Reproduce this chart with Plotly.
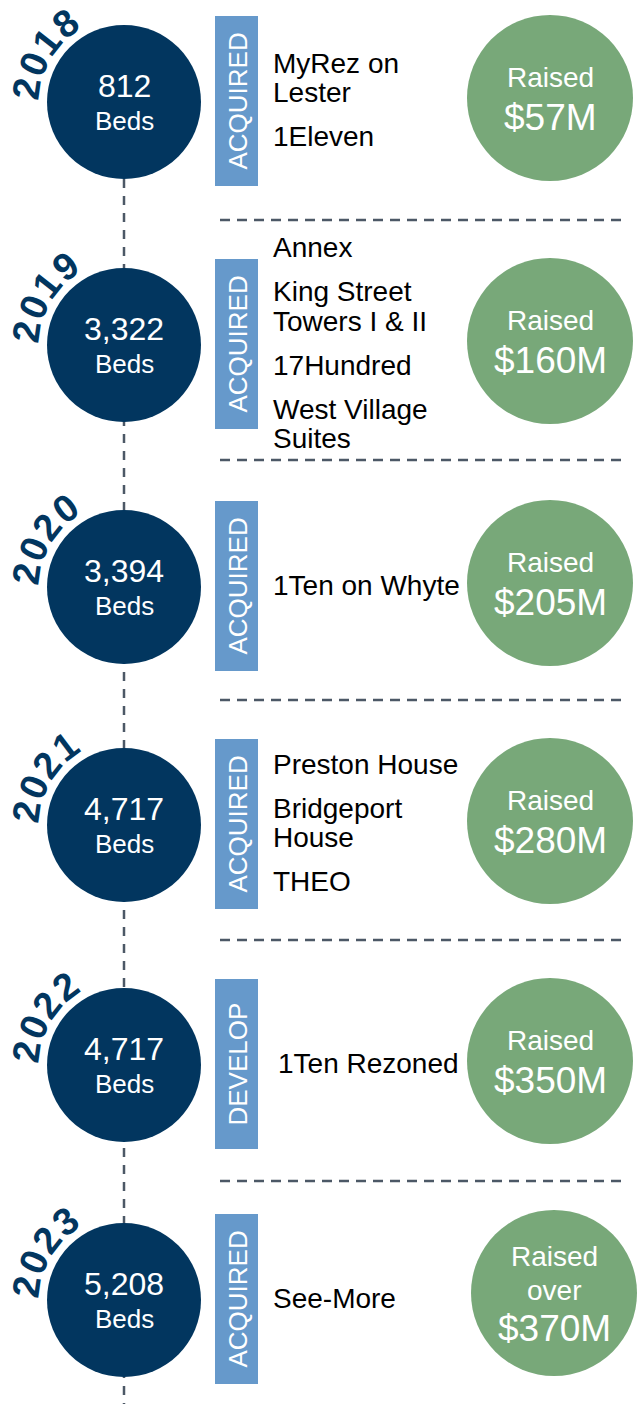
import math
import plotly.graph_objects as go

# ---------------- data ----------------
years = ["2018", "2019", "2020", "2021", "2022", "2023"]
beds = ["812", "3,322", "3,394", "4,717", "4,717", "5,208"]
activity = ["ACQUIRED", "ACQUIRED", "ACQUIRED", "ACQUIRED", "DEVELOP", "ACQUIRED"]
properties = [
    [["MyRez on", "Lester"], ["1Eleven"]],
    [["Annex"], ["King Street", "Towers I & II"], ["17Hundred"], ["West Village", "Suites"]],
    [["1Ten on Whyte"]],
    [["Preston House"], ["Bridgeport", "House"], ["THEO"]],
    [["1Ten Rezoned"]],
    [["See-More"]],
]
raised = [
    ["Raised", "$57M"],
    ["Raised", "$160M"],
    ["Raised", "$205M"],
    ["Raised", "$280M"],
    ["Raised", "$350M"],
    ["Raised", "over", "$370M"],
]

# ---------------- layout / style ----------------
W, H = 639, 1404
NAVY = "#02365f"
BLUE = "#6699cb"
GREEN = "#78a879"
DASH = "#4c5866"
FONT = "Liberation Sans, Arial, sans-serif"

ROW_Y = [102, 345, 587, 825, 1065, 1300]   # vertical centre of each row (px)
SEP_Y = [220, 460, 700, 940, 1181]         # dashed separators (px)
NAVY_X, NAVY_R = 124, 77
BAR_X0, BAR_X1, BAR_H = 215, 258, 170
GREEN_X, GREEN_R = 550, 83
NAME_X = 271

fig = go.Figure()
shapes = []
ann = []

# vertical dashed timeline
shapes.append(dict(type="line", x0=NAVY_X, x1=NAVY_X, y0=ROW_Y[0] + NAVY_R, y1=H,
                   line=dict(color=DASH, width=2.5, dash="9px,8px"), layer="below"))

for i, yr in enumerate(years):
    cy = ROW_Y[i]
    # navy circle
    shapes.append(dict(type="circle", x0=NAVY_X - NAVY_R, x1=NAVY_X + NAVY_R,
                       y0=cy - NAVY_R, y1=cy + NAVY_R,
                       fillcolor=NAVY, line=dict(width=0), layer="above"))
    ann.append(dict(x=NAVY_X, y=cy - 16, text=beds[i], showarrow=False,
                    font=dict(family=FONT, size=32, color="white")))
    ann.append(dict(x=NAVY_X, y=cy + 19, text="Beds", showarrow=False,
                    font=dict(family=FONT, size=26, color="white")))
    # curved year label
    for k, ch in enumerate(yr):
        th = 172 - 15.0 * k
        r = 98
        px = NAVY_X + r * math.cos(math.radians(th))
        py = cy - r * math.sin(math.radians(th))
        ann.append(dict(x=px, y=py, text="<b>%s</b>" % ch, showarrow=False,
                        textangle=90 - th, xanchor="center", yanchor="middle",
                        font=dict(family=FONT, size=38, color=NAVY)))
    # activity bar
    bc = cy - 1
    shapes.append(dict(type="rect", x0=BAR_X0, x1=BAR_X1, y0=bc - BAR_H / 2, y1=bc + BAR_H / 2,
                       fillcolor=BLUE, line=dict(width=0)))
    ann.append(dict(x=(BAR_X0 + BAR_X1) / 2 + 1, y=bc, text=activity[i], showarrow=False,
                    textangle=-90, font=dict(family=FONT, size=26, color="white")))
    # property names
    items = properties[i]
    positions = []
    y = 0
    for j, item in enumerate(items):
        if j > 0:
            y += 44
        for m, line in enumerate(item):
            if m > 0:
                y += 29.5
            positions.append((y, line))
    total = positions[-1][0]
    nx = NAME_X + (5 if activity[i] == "DEVELOP" else 0)
    for (yy, line) in positions:
        ann.append(dict(x=nx, y=cy - 2 - total / 2 + yy, text=line, showarrow=False,
                        xanchor="left", font=dict(family=FONT, size=28, color="black")))
    # green circle
    gc = cy - (7 if i == len(years) - 1 else 4)
    gx = GREEN_X + (4 if i == len(years) - 1 else 0)
    shapes.append(dict(type="circle", x0=gx - GREEN_R, x1=gx + GREEN_R,
                       y0=gc - GREEN_R, y1=gc + GREEN_R,
                       fillcolor=GREEN, line=dict(width=0)))
    rl = raised[i]
    if len(rl) == 2:
        ann.append(dict(x=gx, y=gc - 20.5, text=rl[0], showarrow=False,
                        font=dict(family=FONT, size=28, color="white")))
        ann.append(dict(x=gx, y=gc + 19, text=rl[1], showarrow=False,
                        font=dict(family=FONT, size=37, color="white")))
    else:
        ann.append(dict(x=gx, y=gc - 37, text=rl[0], showarrow=False,
                        font=dict(family=FONT, size=28, color="white")))
        ann.append(dict(x=gx, y=gc - 3, text=rl[1], showarrow=False,
                        font=dict(family=FONT, size=28, color="white")))
        ann.append(dict(x=gx, y=gc + 35, text=rl[2], showarrow=False,
                        font=dict(family=FONT, size=37, color="white")))

# dashed separators
for sy in SEP_Y:
    shapes.append(dict(type="line", x0=220, x1=625, y0=sy, y1=sy,
                       line=dict(color=DASH, width=2.5, dash="10px,7px")))

fig.update_layout(
    width=W, height=H,
    margin=dict(l=0, r=0, t=0, b=0),
    paper_bgcolor="white", plot_bgcolor="white",
    xaxis=dict(range=[0, W], visible=False, fixedrange=True),
    yaxis=dict(range=[H, 0], visible=False, fixedrange=True),
    shapes=shapes, annotations=ann, showlegend=False,
)
fig.write_html("out.html", config={"displayModeBar": False},
               post_script="document.body.style.margin='0';document.body.style.overflow='hidden';")
